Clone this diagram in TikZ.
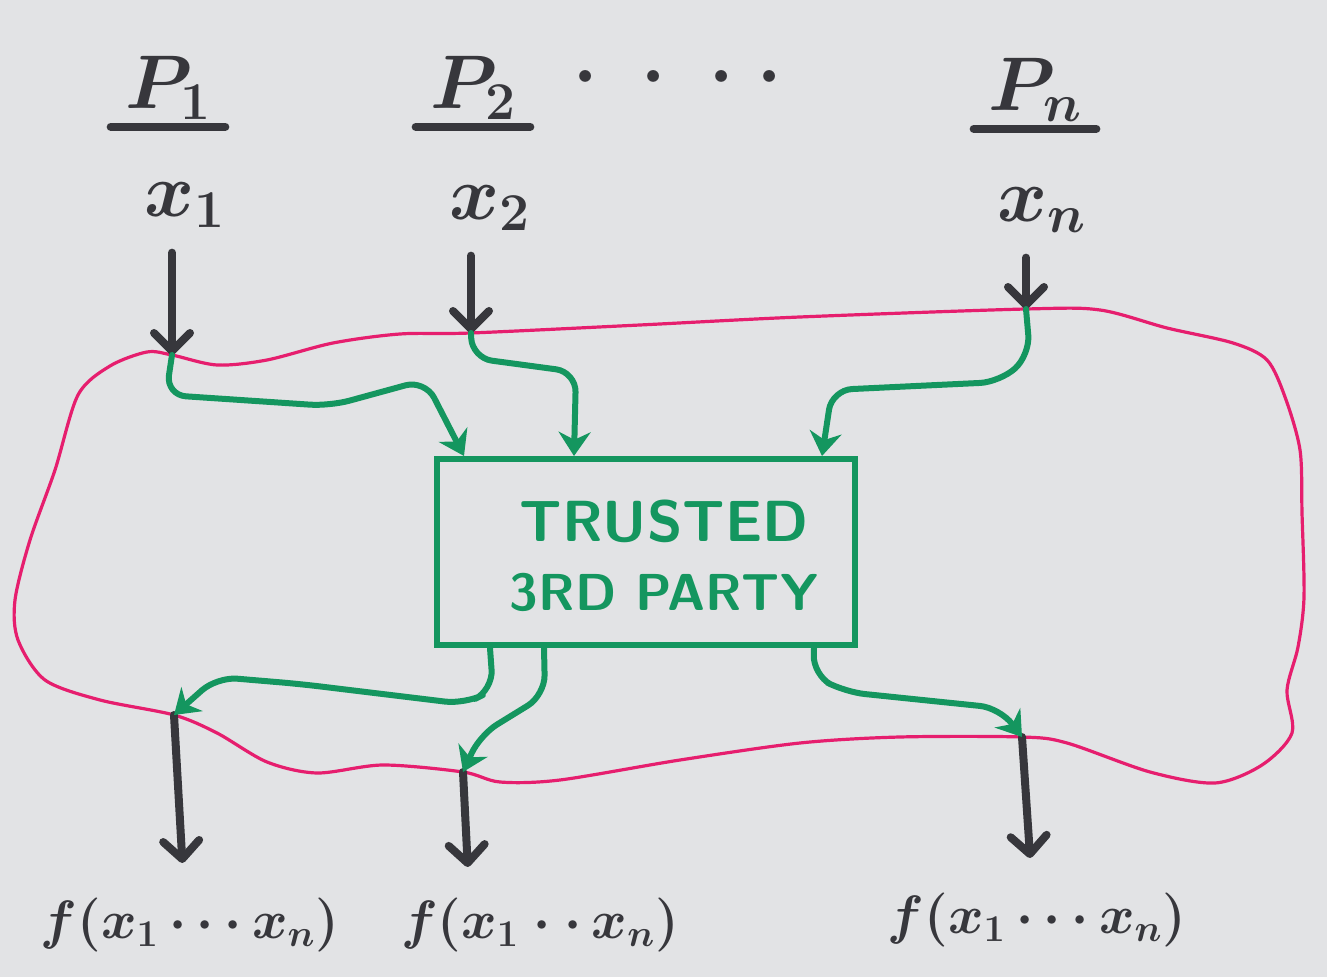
\RequirePackage{fix-cm}
\documentclass[tikz,border=0pt]{standalone}
\usepackage{amsmath}
\usepackage{fontspec}
\usetikzlibrary{arrows.meta}
\definecolor{ink}{HTML}{37373C}
\definecolor{ttpgreen}{HTML}{14965F}
\definecolor{ringred}{HTML}{E61E6E}
\definecolor{board}{HTML}{E2E3E5}

\begin{document}
\begin{tikzpicture}[x=0.5pt,y=-0.5pt,
  ink/.style={draw=ink,line width=4pt,line cap=round},
  inarrow/.style={ink,-{Straight Barb[length=9pt,width=18pt,round]}},
  grnarrow/.style={draw=ttpgreen,line width=3pt,line cap=round,line join=round,rounded corners=10pt,-{Stealth[length=12pt,width=16pt]}},
  party/.style={text=ink,font=\fontsize{38}{40}\selectfont\boldmath,inner xsep=7pt},
  output/.style={text=ink,font=\fontsize{27}{30}\selectfont\boldmath}]
  \useasboundingbox (0,0) rectangle (1327,977);
  \fill[board] (0,0) rectangle (1327,977);
  % parties and inputs
  \node[party] (p1) at (168,88) {$P_1$};
  \node[party] (p2) at (473,88) {$P_2$};
  \node[party] (pn) at (1035,90) {$P_n$};
  \node[party] (dots) at (678,78) {$\cdot\;\cdot\;\cdot\;\cdot$};
  \foreach \p in {p1,p2,pn}{\draw[ink] (\p.south west) -- (\p.south east);}
  \node[party] (x1) at (185,205) {$x_1$};
  \node[party] (x2) at (490,208) {$x_2$};
  \node[party] (xn) at (1042,210) {$x_n$};
  \coordinate (in1) at (172,355);
  \coordinate (in2) at (471,333);
  \coordinate (inn) at (1026,309);
  \coordinate (out1) at (174,715);
  \coordinate (out2) at (463,772);
  \coordinate (outn) at (1022,737);
  % the ring
  \draw[ringred,line width=1.6pt] plot[smooth cycle,tension=0.5] coordinates {
    (78,395) (110,366) (147,352) (in1) (217,365) (267,360) (333,343) (400,334) (in2)
    (640,325) (800,317) (inn) (1100,310) (1167,328) (1233,343) (1267,360) (1285,397)
    (1300,450) (1302,513) (1304,597) (1298,647) (1287,690) (1292,733) (1262,765)
    (1215,783) (1150,772) (1067,743) (outn) (900,737) (800,743) (680,760)
    (560,780) (500,782) (out2) (383,765) (317,773) (267,762) (217,733) (out1) (100,700)
    (45,680) (18,640) (15,600) (30,540) (55,470)};
  % trusted party
  \node[draw=ttpgreen,line width=3pt,minimum width=209pt,minimum height=93pt] (ttp) at (646,552) {};
  \node[text=ttpgreen,font=\sffamily\bfseries,align=center] (ttplabel) at (664,556)
    {\fontsize{29}{32}\selectfont TRUSTED\\[14pt]\fontsize{26}{32}\selectfont 3RD PARTY};
  \draw[inarrow,shorten <=9pt] (x1.south -| in1) -- (in1);
  \draw[inarrow,shorten <=9pt] (x2.south -| in2) -- (in2);
  \draw[inarrow,shorten <=9pt] (xn.south -| inn) -- (inn);
  % outputs
  \node[output] (f1) at (190,925) {$f(x_1\cdots x_n)$};
  \node[output] (f2) at (540,925) {$f(x_1\cdot\cdot\,x_n)$};
  \node[output] (fn) at (1037,920) {$f(x_1\cdots x_n)$};
  \draw[inarrow,shorten >=14pt] (out1) -- ([xshift=5pt]out1 |- f1.north);
  \draw[inarrow,shorten >=12pt] (out2) -- ([xshift=3pt]out2 |- f2.north);
  \draw[inarrow,shorten >=14pt] (outn) -- ([xshift=5pt]outn |- fn.north);
  \draw[grnarrow] (in1) -- (166,395) -- (330,406) -- (425,380) -- ([xshift=15pt]ttp.north west);
  \draw[grnarrow] (in2) -- (472,358) -- (576,372) -- ([xshift=70pt]ttp.north west);
  \draw[grnarrow] (inn) -- (1030,355) -- (1000,382) -- (832,390) -- ([xshift=-18pt]ttp.north east);
  \draw[grnarrow] ([xshift=28pt]ttp.south west) -- (493,690) -- (465,704) -- (300,684) -- (217,677) -- (out1);
  \draw[grnarrow] ([xshift=55pt]ttp.south west) -- (545,695) -- (480,735) -- (out2);
  \draw[grnarrow] ([xshift=-22pt]ttp.south east) -- (813,675) -- (845,692) -- (1000,708) -- (outn);
\end{tikzpicture}
\end{document}
